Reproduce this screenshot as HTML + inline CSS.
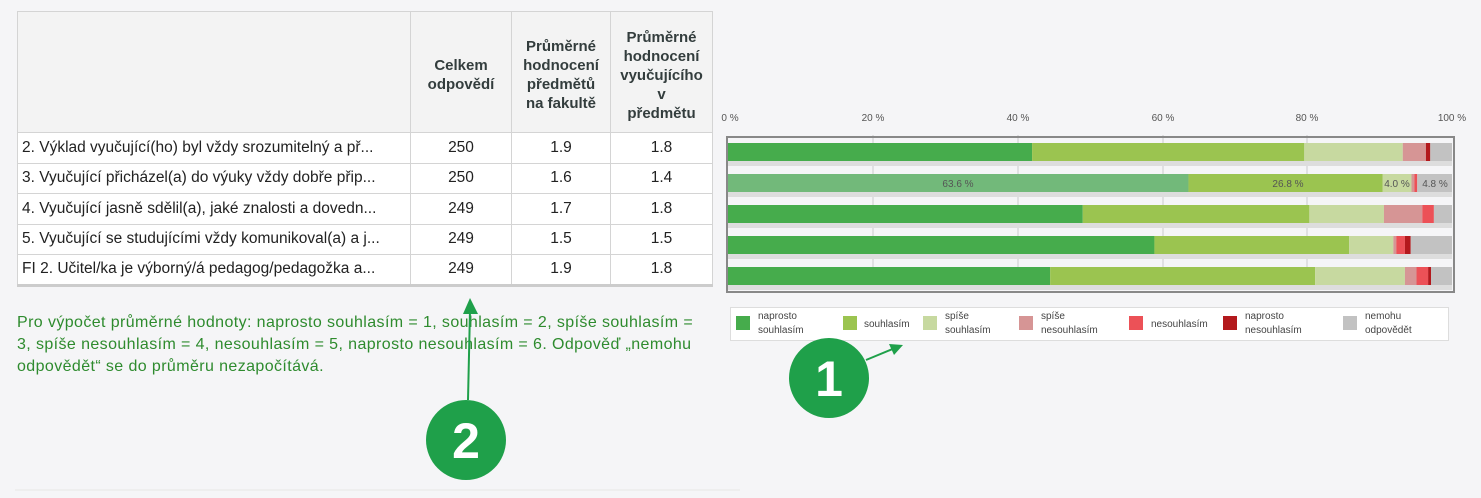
<!DOCTYPE html>
<html><head><meta charset="utf-8"><style>
body{margin:0;width:1481px;height:498px;background:#f5f5f7;position:relative;overflow:hidden;font-family:"Liberation Sans",sans-serif}
table{position:absolute;left:17px;top:11px;border-collapse:collapse;background:#fff;font-size:15.5px;color:#222;table-layout:fixed}
td,th{border:1px solid #d4d4d4;padding:0 4px;height:30.5px;box-sizing:border-box;white-space:nowrap;overflow:hidden}
th{background:#f3f3f3;color:#333d3d;font-size:15px;line-height:19px;vertical-align:middle;height:121px;padding-top:6px}
td.n{text-align:center}
.note{position:absolute;left:17px;top:312px;white-space:nowrap;color:#2e8b2e;font-size:16px;line-height:22px;letter-spacing:0.4px}
</style></head><body>
<table>
<tr><th style="width:393px"></th><th style="width:101px">Celkem<br>odpovědí</th><th style="width:99px">Průměrné<br>hodnocení<br>předmětů<br>na fakultě</th><th style="width:102px">Průměrné<br>hodnocení<br>vyučujícího<br>v<br>předmětu</th></tr>
<tr><td>2. Výklad vyučující(ho) byl vždy srozumitelný a př...</td><td class="n">250</td><td class="n">1.9</td><td class="n">1.8</td></tr>
<tr><td>3. Vyučující přicházel(a) do výuky vždy dobře přip...</td><td class="n">250</td><td class="n">1.6</td><td class="n">1.4</td></tr>
<tr><td>4. Vyučující jasně sdělil(a), jaké znalosti a dovedn...</td><td class="n">249</td><td class="n">1.7</td><td class="n">1.8</td></tr>
<tr><td>5. Vyučující se studujícími vždy komunikoval(a) a j...</td><td class="n">249</td><td class="n">1.5</td><td class="n">1.5</td></tr>
<tr style="border-bottom:3px solid #ccc"><td>FI 2. Učitel/ka je výborný/á pedagog/pedagožka a...</td><td class="n">249</td><td class="n">1.9</td><td class="n">1.8</td></tr>
</table>
<div class="note">Pro výpočet průměrné hodnoty: naprosto souhlasím = 1, souhlasím = 2, spíše souhlasím =<br>3, spíše nesouhlasím = 4, nesouhlasím = 5, naprosto nesouhlasím = 6. Odpověď „nemohu<br>odpovědět“ se do průměru nezapočítává.</div>
<svg width="1481" height="498" style="position:absolute;left:0;top:0" font-family="Liberation Sans,sans-serif">
<g font-size="10" fill="#555" text-anchor="middle">
<text x="730" y="121">0 %</text><text x="873" y="121">20 %</text><text x="1018" y="121">40 %</text><text x="1163" y="121">60 %</text><text x="1307" y="121">80 %</text><text x="1452" y="121">100 %</text>
</g>
<g stroke="#ccc"><line x1="873" y1="135" x2="873" y2="290"/><line x1="1018" y1="135" x2="1018" y2="290"/><line x1="1163" y1="135" x2="1163" y2="290"/><line x1="1307" y1="135" x2="1307" y2="290"/></g>
<rect x="727" y="137" width="727" height="155" fill="none" stroke="#888" stroke-width="2"/>
<g id="bars"></g>
<g font-size="10" fill="#555" text-anchor="middle"><text x="958" y="187">63.6 %</text><text x="1288" y="187">26.8 %</text><text x="1397" y="187">4.0 %</text><text x="1435" y="187">4.8 %</text></g>
<rect x="730.5" y="307.5" width="718" height="33" fill="#fff" stroke="#ddd"/>
<g font-size="10" fill="#444">
<rect x="736" y="316" width="14" height="14" fill="#46ac4c"/><text x="758" y="319">naprosto</text><text x="758" y="333">souhlasím</text>
<rect x="843" y="316" width="14" height="14" fill="#9bc450"/><text x="864" y="327">souhlasím</text>
<rect x="923" y="316" width="14" height="14" fill="#c7d9a0"/><text x="945" y="319">spíše</text><text x="945" y="333">souhlasím</text>
<rect x="1019" y="316" width="14" height="14" fill="#d69595"/><text x="1041" y="319">spíše</text><text x="1041" y="333">nesouhlasím</text>
<rect x="1129" y="316" width="14" height="14" fill="#ec5157"/><text x="1151" y="327">nesouhlasím</text>
<rect x="1223" y="316" width="14" height="14" fill="#b3191d"/><text x="1245" y="319">naprosto</text><text x="1245" y="333">nesouhlasím</text>
<rect x="1343" y="316" width="14" height="14" fill="#c2c2c2"/><text x="1365" y="319">nemohu</text><text x="1365" y="333">odpovědět</text>
</g>
<g fill="#1fa04a" stroke="#1fa04a">
<line x1="866" y1="360" x2="895" y2="348" stroke-width="2"/><polygon points="903,345 889,344 894,355" stroke="none"/>
<circle cx="829" cy="378" r="40" stroke="none"/>
<line x1="468" y1="400" x2="470" y2="310" stroke-width="2"/><polygon points="470,298 463,314 478,314" stroke="none"/>
<circle cx="466" cy="440" r="40" stroke="none"/>
</g>
<text x="829" y="396" font-size="50" font-weight="bold" fill="#fff" text-anchor="middle">1</text>
<text x="466" y="458" font-size="50" font-weight="bold" fill="#fff" text-anchor="middle">2</text>
<line x1="15" y1="490" x2="740" y2="490" stroke="#e6e6e6"/>
</svg>
<script>
var C=["#46ac4c","#9bc450","#c7d9a0","#d69595","#ec5157","#b3191d","#c2c2c2"];
var R=[[42,37.6,13.6,3.2,0,0.6,3],[63.6,26.8,4,0.4,0.4,0,4.8],[49,31.3,10.3,5.3,1.6,0,2.5],[58.9,26.9,6.1,0.4,1.2,0.8,5.7],[44.5,36.6,12.4,1.6,1.6,0.4,2.9]];
var g=document.getElementById('bars'),s='';
R.forEach(function(r,i){var y=143+i*31,x=728;
s+='<rect x="728" y="'+(y+18)+'" width="724" height="5" fill="#ddd"/>';
r.forEach(function(p,j){var w=p*7.24;var c=C[j];if(i==1&&j==0)c="#72b97a";s+='<rect x="'+x+'" y="'+y+'" width="'+w+'" height="18" fill="'+c+'"/>';x+=w;});});
g.innerHTML=s;
</script>
</body></html>
